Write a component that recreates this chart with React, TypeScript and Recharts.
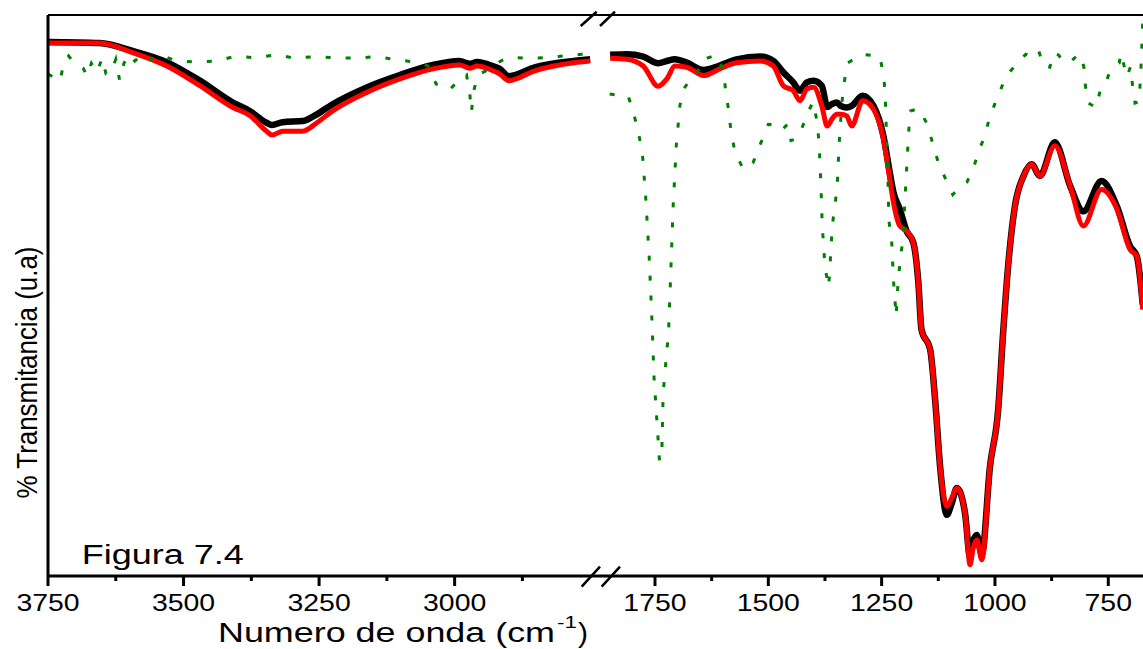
import { LineChart, Line, XAxis, YAxis } from 'recharts';

// FTIR spectra, split x axis (3750-2750 | 1870-675 cm-1), arbitrary transmittance units 0-100

const LEFT_WN = [3750, 3655, 3594, 3531, 3470, 3409, 3378, 3347, 3337, 3317, 3280, 3254, 3225, 3162, 3101, 3040, 2991, 2972, 2959, 2930, 2917, 2900, 2851, 2780, 2750];
const LEFT_BLACK = [95.2, 95.0, 93.6, 91.6, 88.3, 84.4, 82.9, 80.8, 80.4, 80.9, 81.1, 82.3, 84.1, 87.1, 89.3, 91.1, 91.8, 91.3, 91.6, 90.9, 90.4, 89.1, 90.7, 91.8, 92.1];
const LEFT_RED = [95.0, 95.0, 93.3, 90.9, 87.4, 83.5, 82.1, 79.3, 78.6, 79.3, 79.3, 80.8, 82.9, 86.2, 88.6, 90.4, 91.1, 90.5, 90.9, 90.1, 89.5, 88.3, 90.1, 91.5, 91.8];

const LEFT_GREEN_WN = [3750, 3740, 3728, 3720, 3712, 3703, 3695, 3685, 3678, 3670, 3660, 3650, 3643, 3635, 3625, 3618, 3610, 3600, 3590, 3582, 3570, 3544, 3513, 3476, 3439, 3406, 3366, 3329, 3295, 3255, 3224, 3178, 3144, 3107, 3070, 3049, 3034, 3009, 2990, 2978, 2972, 2969, 2965, 2957, 2935, 2915, 2900, 2851, 2809, 2766, 2750];
const LEFT_GREEN = [89.5, 88.9, 88.2, 91.8, 92.7, 91.6, 91.1, 90.5, 89.1, 91.4, 89.8, 92.3, 89.5, 89.6, 92.1, 88.4, 91.4, 93.0, 91.8, 92.5, 91.6, 92.9, 91.8, 91.6, 91.8, 92.6, 92.4, 92.9, 92.3, 92.6, 92.4, 92.3, 92.6, 92.0, 91.6, 90.9, 87.7, 86.7, 88.6, 89.3, 85.9, 82.7, 86.4, 89.3, 90.4, 91.8, 92.4, 92.3, 92.6, 93.0, 93.0];

const RIGHT_WN = [1849, 1812, 1776, 1743, 1724, 1706, 1680, 1643, 1607, 1570, 1518, 1489, 1467, 1445, 1430, 1415, 1400, 1382, 1370, 1360, 1349, 1340, 1327, 1316, 1292, 1268, 1246, 1232, 1224, 1210, 1195, 1180, 1169, 1162, 1143, 1132, 1121, 1106, 1096, 1084, 1066, 1055, 1048, 1040, 1029, 1011, 993, 982, 971, 956, 937, 919, 901, 868, 834, 805, 765, 731, 702, 687, 674];
const RIGHT_BLACK = [92.9, 93.0, 92.6, 91.4, 91.8, 92.1, 91.5, 90.2, 91.0, 92.1, 92.6, 91.8, 89.8, 88.0, 86.5, 88.0, 88.3, 87.4, 83.6, 84.1, 84.4, 83.8, 83.5, 83.8, 85.6, 83.8, 78.4, 71.9, 68.4, 65.4, 61.5, 59.4, 52.3, 43.9, 40.4, 31.4, 19.5, 10.9, 12.8, 15.7, 11.2, 3.4, 6.2, 7.3, 3.8, 19.5, 29.6, 43.3, 55.2, 65.9, 71.3, 73.4, 71.3, 77.3, 69.5, 65.0, 70.4, 65.9, 58.8, 57.0, 48.4];
const RIGHT_RED = [92.3, 92.1, 90.9, 87.3, 88.6, 90.9, 90.7, 89.2, 90.4, 91.5, 91.8, 90.9, 87.4, 86.5, 84.7, 86.8, 87.1, 83.8, 80.2, 81.4, 82.3, 82.3, 82.0, 80.2, 84.7, 83.2, 77.9, 70.7, 66.6, 62.4, 61.5, 59.4, 52.3, 43.9, 40.4, 31.4, 19.5, 12.4, 13.8, 15.7, 11.2, 2.0, 5.0, 6.4, 2.9, 19.5, 29.6, 43.3, 55.2, 65.9, 71.3, 73.4, 71.3, 76.7, 69.5, 62.4, 68.9, 65.4, 58.2, 57.0, 47.5];

const RIGHT_GREEN_WN = [1850, 1831, 1809, 1798, 1787, 1778, 1771, 1763, 1757, 1752, 1746, 1740, 1735, 1732, 1720, 1715, 1710, 1703, 1695, 1686, 1676, 1656, 1651, 1635, 1615, 1599, 1594, 1587, 1582, 1573, 1555, 1534, 1520, 1500, 1481, 1470, 1458, 1450, 1439, 1426, 1410, 1401, 1392, 1388, 1384, 1381, 1375, 1367, 1364, 1359, 1348, 1344, 1338, 1333, 1326, 1293, 1254, 1245, 1242, 1239, 1236, 1234, 1228, 1224, 1218, 1214, 1209, 1203, 1199, 1195, 1190, 1186, 1168, 1149, 1137, 1125, 1108, 1093, 1075, 1062, 1048, 1037, 1022, 1011, 996, 982, 968, 948, 932, 915, 903, 893, 879, 869, 860, 849, 834, 821, 812, 804, 800, 794, 777, 767, 757, 748, 737, 726, 722, 709, 701, 696, 691, 682, 677, 674];
const RIGHT_GREEN = [85.9, 85.7, 85.5, 82.8, 79.2, 75.5, 68.2, 57.2, 46.2, 35.2, 27.9, 20.5, 21.6, 32.6, 43.6, 54.6, 65.7, 76.7, 83.9, 86.9, 88.0, 89.5, 91.7, 92.3, 92.9, 90.1, 86.4, 82.7, 79.0, 75.4, 72.5, 73.6, 76.5, 80.5, 80.4, 79.5, 80.5, 77.6, 77.9, 79.8, 83.1, 84.5, 80.8, 77.1, 69.8, 62.5, 55.1, 51.5, 55.1, 62.3, 69.4, 76.7, 84.1, 87.7, 91.4, 93.0, 92.6, 89.0, 85.3, 78.0, 70.6, 63.3, 60.0, 52.9, 46.3, 52.0, 56.4, 60.0, 66.3, 72.5, 79.6, 82.9, 83.3, 80.5, 77.0, 73.7, 70.6, 68.0, 69.5, 70.2, 72.6, 75.4, 78.6, 82.0, 85.0, 87.8, 89.8, 91.7, 93.0, 92.4, 93.5, 90.9, 90.7, 93.3, 92.9, 91.6, 91.6, 92.6, 93.0, 90.8, 87.1, 84.3, 83.5, 86.8, 87.5, 89.6, 90.7, 91.4, 93.2, 89.0, 90.8, 87.1, 84.3, 84.5, 92.0, 99.0];

const LEFT_TICKS = [3750, 3625, 3500, 3375, 3250, 3125, 3000, 2875];
const RIGHT_TICKS = [1750, 1625, 1500, 1375, 1250, 1125, 1000, 875, 750];

const LEFT_DOMAIN = [2731.9, 3750];
const RIGHT_DOMAIN = [673.4, 1871.3];

const FONT = "'Liberation Sans', Arial, sans-serif";

const zip = (wn: number[], t: number[]) => wn.map((w, i) => ({ wn: w, t: t[i] }));

function BottomTick(props: any) {
  const { x, y, payload } = props;
  const v = payload.value;
  const major = v % 250 === 0;
  const label = String(v);
  return (
    <g>
      <line x1={x} x2={x} y1={y} y2={y + (major ? 10 : 5)} stroke="#000" strokeWidth={3} />
      {major && (
        <text
          x={x}
          y={y + 35}
          textAnchor="middle"
          fontSize={24}
          fontFamily={FONT}
          fill="#000"
          textLength={label.length * 15.8}
          lengthAdjust="spacingAndGlyphs"
        >
          {label}
        </text>
      )}
    </g>
  );
}

function Segment({ width, left, domain, ticks, black, red, green, showY }: any) {
  return (
    <LineChart width={width} height={649} margin={{ top: 15, right: 0, bottom: 0, left }}>
      <XAxis
        type="number"
        dataKey="wn"
        domain={domain}
        reversed
        allowDataOverflow
        ticks={ticks}
        interval={0}
        height={73}
        tickSize={0}
        tickMargin={0}
        tickLine={false}
        axisLine={{ stroke: '#000', strokeWidth: 3 }}
        tick={(p: any) => <BottomTick {...p} />}
      />
      <XAxis
        xAxisId="top"
        orientation="top"
        type="number"
        dataKey="wn"
        domain={domain}
        reversed
        allowDataOverflow
        ticks={ticks}
        interval={0}
        height={1}
        mirror
        tickSize={3}
        tick={false}
        tickLine={{ stroke: '#000', strokeWidth: 1.5 }}
        axisLine={{ stroke: '#000', strokeWidth: 2 }}
      />
      <YAxis
        type="number"
        domain={[0, 100]}
        allowDataOverflow
        width={1}
        hide={!showY}
        tick={false}
        tickLine={false}
        axisLine={{ stroke: '#000', strokeWidth: 3 }}
      />
      <Line data={black} dataKey="t" type="monotone" stroke="#000000" strokeWidth={6.5} dot={false} activeDot={false} isAnimationActive={false} />
      <Line data={red} dataKey="t" type="monotone" stroke="#ff0000" strokeWidth={5} dot={false} activeDot={false} isAnimationActive={false} />
      <Line data={green} dataKey="t" type="linear" stroke="#008000" strokeWidth={3} strokeDasharray="5 15" dot={false} activeDot={false} isAnimationActive={false} />
    </LineChart>
  );
}

export default function App() {
  return (
    <div style={{ position: 'fixed', left: 0, top: 0, width: 1143, height: 649, background: '#fff', overflow: 'hidden' }}>
      <div style={{ position: 'absolute', left: 0, top: 0 }}>
        <Segment
          width={600}
          left={47}
          domain={LEFT_DOMAIN}
          ticks={LEFT_TICKS}
          black={zip(LEFT_WN, LEFT_BLACK)}
          red={zip(LEFT_WN, LEFT_RED)}
          green={zip(LEFT_GREEN_WN, LEFT_GREEN)}
          showY
        />
      </div>
      <div style={{ position: 'absolute', left: 600, top: 0 }}>
        <Segment
          width={543}
          left={0}
          domain={RIGHT_DOMAIN}
          ticks={RIGHT_TICKS}
          black={zip(RIGHT_WN, RIGHT_BLACK)}
          red={zip(RIGHT_WN, RIGHT_RED)}
          green={zip(RIGHT_GREEN_WN, RIGHT_GREEN)}
          showY={false}
        />
      </div>
      <svg width={1143} height={649} style={{ position: 'absolute', left: 0, top: 0, pointerEvents: 'none' }}>
        {/* axis break marks */}
        <g stroke="#000" strokeWidth={2.5}>
          <line x1={581.7} y1={586.7} x2={600} y2={566.7} />
          <line x1={601.7} y1={586.7} x2={620} y2={566.7} />
          <line x1={580.7} y1={26} x2={596.7} y2={11.7} />
          <line x1={600} y1={26} x2={615} y2={11.7} />
        </g>
        <g fontFamily={FONT} fill="#000">
          <text x={81.7} y={564} fontSize={27} textLength={162} lengthAdjust="spacingAndGlyphs">Figura 7.4</text>
          <text x={218} y={642} fontSize={27} textLength={337} lengthAdjust="spacingAndGlyphs">Numero de onda (cm</text>
          <text x={557} y={628} fontSize={17} textLength={20} lengthAdjust="spacingAndGlyphs">-1</text>
          <text x={578} y={642} fontSize={27} textLength={10} lengthAdjust="spacingAndGlyphs">)</text>
          <text
            transform="translate(36.5,372.5) scale(1.15,1) rotate(-90)"
            textAnchor="middle"
            fontSize={26}
            textLength={252}
            lengthAdjust="spacingAndGlyphs"
          >
            % Transmitancia (u.a)
          </text>
        </g>
      </svg>
    </div>
  );
}
